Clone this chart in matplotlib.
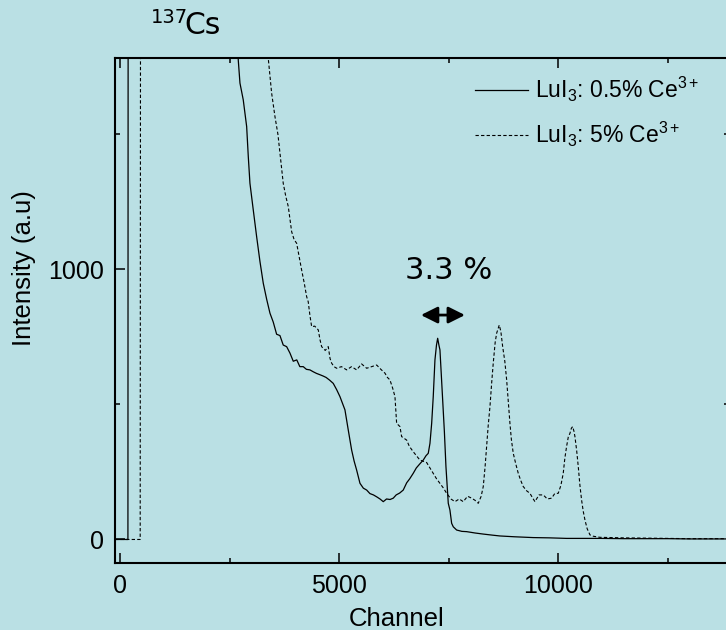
import matplotlib
matplotlib.use('Agg')
import matplotlib.pyplot as plt
from matplotlib.ticker import MultipleLocator

# ---------- Data ----------
# LuI3 : 0.5% Ce3+ (solid line), channel vs counts
solid_channel = [-120, 175, 185, 2650, 2694, 2733, 2808, 2886, 2923, 2961, 3037, 3114,
                 3189, 3265, 3342, 3418, 3493, 3570, 3646, 3721, 3799, 3875, 3950, 4030,
                 4100, 4178, 4250, 4330, 4406, 4480, 4560, 4635, 4700, 4780, 4863, 4940,
                 5016, 5130, 5205, 5283, 5340, 5397, 5473, 5550, 5626, 5700, 5780, 5854,
                 5930, 6005, 6080, 6160, 6233, 6300, 6380, 6461, 6540, 6610, 6689, 6760,
                 6840, 6918, 6980, 7032, 7071, 7110, 7146, 7185, 7220, 7247, 7275, 7299,
                 7330, 7361, 7400, 7436, 7489, 7527, 7566, 7603, 7680, 7800, 7909, 8100,
                 8288, 8500, 8669, 9000, 9429, 9800, 10190, 10600, 10952, 11500, 12000,
                 12500, 13000, 13500, 14000]
solid_counts = [0, 0, 4000, 4000, 1776, 1690, 1628, 1529, 1418, 1319, 1220, 1121,
                1030, 949, 890, 838, 805, 760, 755, 720, 714, 690, 660, 665,
                640, 640, 630, 628, 621, 615, 610, 605, 600, 590, 578, 555,
                529, 480, 406, 331, 290, 257, 208, 190, 183, 170, 165, 158,
                150, 140, 150, 148, 153, 165, 172, 183, 210, 225, 245, 265,
                280, 294, 310, 319, 356, 430, 529, 665, 720, 745, 720, 702,
                610, 517, 400, 270, 134, 109, 60, 47, 35, 30, 29, 24,
                20, 16, 13, 10, 7, 6, 4, 4, 4, 3, 3,
                3, 2, 2, 2]

# LuI3 : 5% Ce3+ (dashed line)
dashed_channel = [-120, 455, 470, 3340, 3379, 3456, 3532, 3600, 3646, 3721, 3780, 3836,
                  3913, 3970, 4027, 4080, 4141, 4200, 4256, 4292, 4330, 4370, 4440, 4521,
                  4560, 4598, 4680, 4749, 4790, 4826, 4880, 4941, 5050, 5169, 5280, 5397,
                  5510, 5626, 5740, 5854, 5950, 6043, 6100, 6157, 6220, 6272, 6310, 6386,
                  6424, 6539, 6600, 6689, 6842, 6995, 7070, 7146, 7220, 7299, 7380, 7452,
                  7550, 7641, 7740, 7831, 7930, 8023, 8100, 8174, 8240, 8288, 8330, 8365,
                  8400, 8441, 8480, 8516, 8560, 8594, 8653, 8690, 8731, 8780, 8822, 8860,
                  8897, 8930, 8973, 9030, 9087, 9140, 9201, 9280, 9354, 9410, 9468, 9560,
                  9658, 9750, 9849, 9920, 10000, 10060, 10114, 10150, 10190, 10230, 10267,
                  10300, 10329, 10360, 10381, 10420, 10457, 10495, 10533, 10570, 10610,
                  10660, 10724, 10800, 10952, 11200, 11500, 12000, 12500, 13000, 13500, 14000]
dashed_counts = [0, 0, 4000, 4000, 1782, 1653, 1566, 1500, 1430, 1319, 1270, 1233,
                 1140, 1110, 1097, 1050, 998, 950, 899, 880, 830, 788, 790, 776,
                 740, 714, 700, 714, 670, 653, 640, 634, 640, 628, 640, 628,
                 650, 634, 640, 646, 630, 616, 600, 591, 560, 529, 430, 418,
                 381, 368, 345, 325, 294, 285, 265, 245, 225, 208, 190, 171,
                 150, 140, 150, 140, 160, 153, 145, 134, 160, 196, 270, 344,
                 420, 492, 580, 653, 730, 764, 794, 770, 714, 660, 591, 510,
                 430, 370, 319, 280, 245, 220, 196, 180, 171, 155, 140, 165,
                 165, 150, 153, 170, 171, 200, 245, 300, 344, 380, 393,
                 412, 418, 400, 381, 330, 270, 200, 146, 105, 72,
                 40, 17, 12, 8, 7, 6, 5, 4, 3, 3, 3]

labels = [r'LuI$_3$: 0.5% Ce$^{3+}$', r'LuI$_3$: 5% Ce$^{3+}$']
resolution_text = '3.3 %'
arrow_span = (6865, 7870)
arrow_level = 831

# ---------- Style ----------
bg = '#bae0e4'
plt.rcParams['font.family'] = ['Liberation Sans', 'DejaVu Sans']
plt.rcParams['mathtext.fontset'] = 'custom'
plt.rcParams['mathtext.rm'] = 'Liberation Sans'
plt.rcParams['mathtext.it'] = 'Liberation Sans:italic'
plt.rcParams['mathtext.bf'] = 'Liberation Sans:bold'

W, H = 726, 630
x_right = 729.5  # right spine sits just outside the picture
fig = plt.figure(figsize=(W / 100, H / 100), dpi=100, facecolor=bg)
ax = fig.add_axes([115 / W, 1 - 562.7 / H, (x_right - 115) / W, (562.7 - 57.7) / H])
ax.set_facecolor(bg)

# ---------- Plotting ----------
ax.plot(solid_channel, solid_counts, color='black', lw=0.9, label=labels[0])
ax.plot(dashed_channel, dashed_counts, color='black', lw=0.8,
        linestyle=(0, (3, 2)), label=labels[1])

ax.set_xlim(-120, 13910)
ax.set_ylim(-86, 1784)

ax.xaxis.set_major_locator(MultipleLocator(5000))
ax.xaxis.set_minor_locator(MultipleLocator(2500))
ax.yaxis.set_major_locator(MultipleLocator(1000))
ax.yaxis.set_minor_locator(MultipleLocator(500))
ax.tick_params(which='both', direction='in', top=True, right=True, width=1.1,
               labelsize=18)
ax.tick_params(which='major', length=7.2)
ax.tick_params(which='minor', length=3.6)
ax.tick_params(axis='y', which='major', right=False, pad=8)
ax.tick_params(axis='x', pad=8)
for sp in ax.spines.values():
    sp.set_linewidth(1.5)

plot_w = x_right - 115
ax.set_xlabel('Channel', fontsize=18.5, va='top')
ax.xaxis.set_label_coords((396.5 - 115) / plot_w, (562.7 - 607) / 505)
ax.set_ylabel('Intensity (a.u)', fontsize=18.5)
ax.yaxis.set_label_coords((36 - 115) / plot_w, (562.7 - 268) / 505)

# resolution marker
ax.annotate('', xy=(arrow_span[0], arrow_level), xytext=(arrow_span[1], arrow_level),
            arrowprops=dict(arrowstyle='<|-|>', lw=2, mutation_scale=25,
                            color='black', shrinkA=0, shrinkB=0))
ax.text(7490, 965, resolution_text, fontsize=22, family='DejaVu Sans',
        ha='center', va='baseline')

# source label
fig.text(151 / W, 1 - 23 / H, '137', fontsize=14, family='DejaVu Sans', va='baseline')
fig.text(184 / W, 1 - 34 / H, 'Cs', fontsize=21.5, family='DejaVu Sans', va='baseline')

ax.legend(loc='upper left', bbox_to_anchor=(475 / W, 1 - 75 / H),
          bbox_transform=fig.transFigure, frameon=False, fontsize=16.5,
          handlelength=2.3, handletextpad=0.3, labelspacing=0.7,
          borderpad=0, borderaxespad=0)

fig.savefig('out.png', dpi=100, facecolor=bg)
